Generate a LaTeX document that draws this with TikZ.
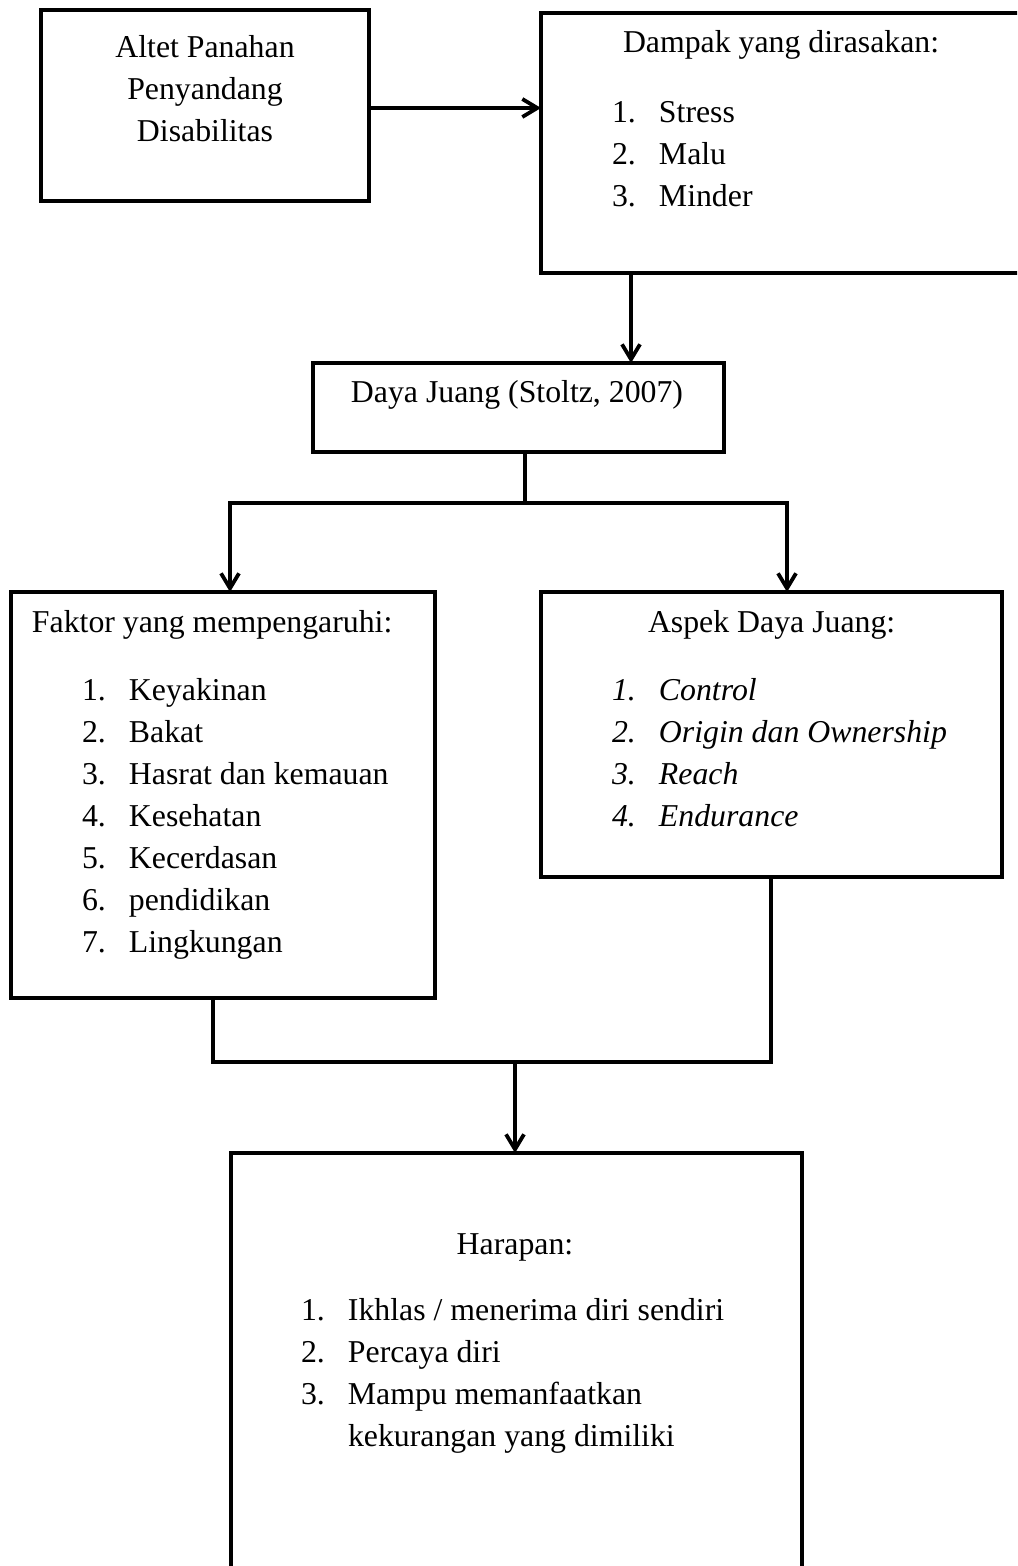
\documentclass[tikz,border=0pt]{standalone}
\usepackage{fontspec}
\setmainfont{Liberation Serif}
\usetikzlibrary{arrows.meta,fit}
\newcommand\itm[2]{\makebox[23.5pt][l]{#1}#2}
\begin{document}
\begin{tikzpicture}[x=0.5pt,y=-0.5pt,
  box/.style={draw, line width=2pt, inner sep=0pt, outer sep=0pt},
  txt/.style={inner sep=0pt, outer sep=0pt, font=\fontsize{15.9}{21}\selectfont},
  itxt/.style={inner sep=0pt, outer sep=0pt, font=\fontsize{15.9}{21}\selectfont\itshape},
  conn/.style={line width=1.9pt},
  arr/.style={conn, -{Straight Barb[length=7.5pt,width=9pt]}}]
\useasboundingbox (0,0) rectangle (1017,1566);
\clip (0,0) rectangle (1017,1566);

% boxes
\node[box, fit={(41,10) (369,201)}] (b1) {};
\node[box, fit={(541,13) (1030,273)}] (b2) {};
\node[box, fit={(313,363) (724,452)}] (b3) {};
\node[box, fit={(11,592) (435,998)}] (b4) {};
\node[box, fit={(541,592) (1002,877)}] (b5) {};
\node[box, fit={(231,1153) (802,1600)}] (b6) {};

% texts
\node[txt, anchor=base] (t1) at (205,58) {\begin{tabular}[t]{@{}c@{}}Altet Panahan\\Penyandang\\Disabilitas\end{tabular}};
\node[txt, anchor=base west] (t2) at (623,53) {Dampak yang dirasakan:};
\node[txt, anchor=base west] (l2) at (612,123) {\begin{tabular}[t]{@{}l@{}}\itm{1.}{Stress}\\\itm{2.}{Malu}\\\itm{3.}{Minder}\end{tabular}};
\node[txt, anchor=base] (t3) at (517,403) {Daya Juang (Stoltz, 2007)};
\node[txt, anchor=base west] (t4) at (32,632) {Faktor yang mempengaruhi:};
\node[txt, anchor=base west] (l4) at (82,700) {\begin{tabular}[t]{@{}l@{}}\itm{1.}{Keyakinan}\\\itm{2.}{Bakat}\\\itm{3.}{Hasrat dan kemauan}\\\itm{4.}{Kesehatan}\\\itm{5.}{Kecerdasan}\\\itm{6.}{pendidikan}\\\itm{7.}{Lingkungan}\end{tabular}};
\node[txt, anchor=base west] (t5) at (648,632) {Aspek Daya Juang:};
\node[itxt, anchor=base west] (l5) at (612,700) {\begin{tabular}[t]{@{}l@{}}\itm{1.}{Control}\\\itm{2.}{Origin dan Ownership}\\\itm{3.}{Reach}\\\itm{4.}{Endurance}\end{tabular}};
\node[txt, anchor=base] (t6) at (515,1254) {Harapan:};
\node[txt, anchor=base west] (l6) at (301,1320) {\begin{tabular}[t]{@{}l@{}}\itm{1.}{Ikhlas / menerima diri sendiri}\\\itm{2.}{Percaya diri}\\\itm{3.}{Mampu memanfaatkan}\\\itm{}{kekurangan yang dimiliki}\end{tabular}};

% connector helper coordinates
\coordinate (a1) at (0,108);
\coordinate (a2) at (631,0);
\coordinate (j) at (525,503);
\coordinate (jl) at (230,503);
\coordinate (jr) at (787,503);
\coordinate (ml) at (213,1062);
\coordinate (mr) at (771,1062);
\coordinate (m) at (515,1062);

% connectors
\draw[arr] (b1.east |- a1) -- (b2.west |- a1);
\draw[arr] (b2.south -| a2) -- (b3.north -| a2);
\draw[conn] (b3.south -| j) -- (j);
\draw[arr] (j) -- (jl) -- (jl |- b4.north);
\draw[arr] (j) -- (jr) -- (jr |- b5.north);
\draw[conn] (b4.south -| ml) -- (ml) -- (mr) -- (b5.south -| mr);
\draw[arr] (m) -- (b6.north -| m);
\end{tikzpicture}
\end{document}
